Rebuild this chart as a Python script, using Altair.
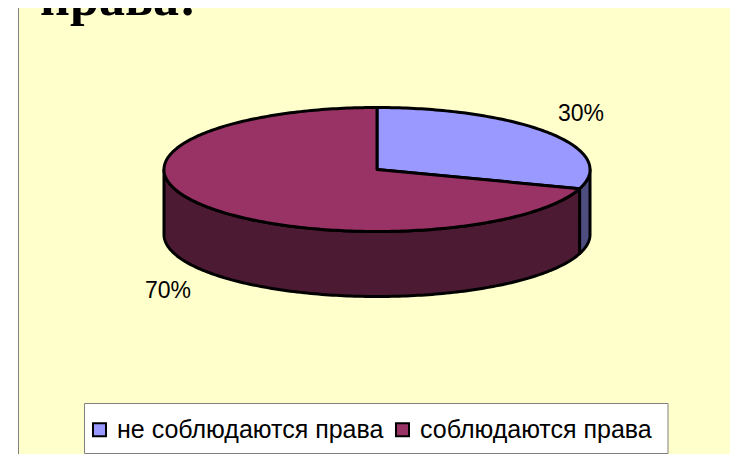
import math
import altair as alt
import pandas as pd

# --- data ---
categories = ["не соблюдаются права", "соблюдаются права"]
shares = [30, 70]
top_colors = ["#9999FF", "#993366"]
side_colors = ["#4D4D80", "#4D1A33"]
label_texts = ["30%", "70%"]
title_text = "права!"

# --- pie geometry (page pixels) ---
CX, CY, RX, RY, DEPTH = 377, 169.5, 213, 62, 65


def pt(deg, dy=0):
    a = math.radians(deg)
    return [CX + RX * math.sin(a), CY - RY * math.cos(a) + dy]


def arc(a0, a1, dy=0):
    n = max(2, int(abs(a1 - a0)) + 1)
    return [pt(a0 + (a1 - a0) * i / (n - 1), dy) for i in range(n)]


def feature(ring, **props):
    ring = ring + [ring[0]]
    return {"type": "Feature", "properties": props,
            "geometry": {"type": "Polygon", "coordinates": [ring]}}


tops, sides = [], []
start = 0
for name, share, top, side in zip(categories, shares, top_colors, side_colors):
    end = start + share * 3.6
    tops.append(feature([[CX, CY]] + arc(start, end), name=name))
    lo, hi = max(start, 90), min(end, 270)
    if lo < hi:
        sides.append(feature(arc(lo, hi) + arc(hi, lo, DEPTH), name=name, color=side))
    start = end

identity = dict(type="identity", scale=1, translate=[-8, -8])

one_row = pd.DataFrame({"a": [0]})

panel = alt.Chart(one_row).mark_rect(
    fill="#FFFFCC", stroke="#808080", strokeWidth=1
).encode(x=alt.value(10.5), x2=alt.value(727), y=alt.value(-3.5), y2=alt.value(470))

legend_box = alt.Chart(one_row).mark_rect(
    fill="white", stroke="#808080", strokeWidth=1
).encode(x=alt.value(76.5), x2=alt.value(660), y=alt.value(395.5), y2=alt.value(445.5))

side_layer = alt.Chart(alt.Data(values=sides)).mark_geoshape(
    stroke="black", strokeWidth=3, strokeJoin="round"
).encode(fill=alt.Fill("properties.color:N", scale=None)).project(**identity)

top_layer = alt.Chart(alt.Data(values=tops)).mark_geoshape(
    stroke="black", strokeWidth=3, strokeJoin="round"
).encode(
    color=alt.Color(
        "properties.name:N",
        scale=alt.Scale(domain=categories, range=top_colors),
        legend=alt.Legend(
            title=None, orient="none", legendX=79, legendY=409,
            direction="horizontal", padding=0, symbolType="square", symbolSize=170,
            symbolStrokeColor="black", symbolStrokeWidth=2, symbolOpacity=1,
            labelFont="Liberation Sans", labelFontSize=25, labelColor="black",
            labelLimit=500, columnPadding=6, labelOffset=5,
        ),
    )
).project(**identity)

labels = alt.Chart(pd.DataFrame({
    "t": label_texts, "px": [573, 160], "py": [106, 283],
})).mark_text(font="Liberation Sans", fontSize=23, color="black", align="center", baseline="middle").encode(
    x=alt.X("px:Q", scale=None), y=alt.Y("py:Q", scale=None), text="t:N"
)

title = alt.Chart(pd.DataFrame({"t": [title_text]})).mark_text(
    font="Liberation Serif", fontWeight="bold", fontSize=52, color="black",
    align="left", baseline="alphabetic"
).encode(x=alt.value(32), y=alt.value(7), text="t:N")

chart = alt.layer(panel, legend_box, side_layer, top_layer, labels, title).properties(
    width=722, height=446, background="white",
    autosize=alt.AutoSizeParams(type="none"), padding=0,
).configure_view(stroke=None)

chart.save("out.html", embed_options={"renderer": "svg", "actions": False})
